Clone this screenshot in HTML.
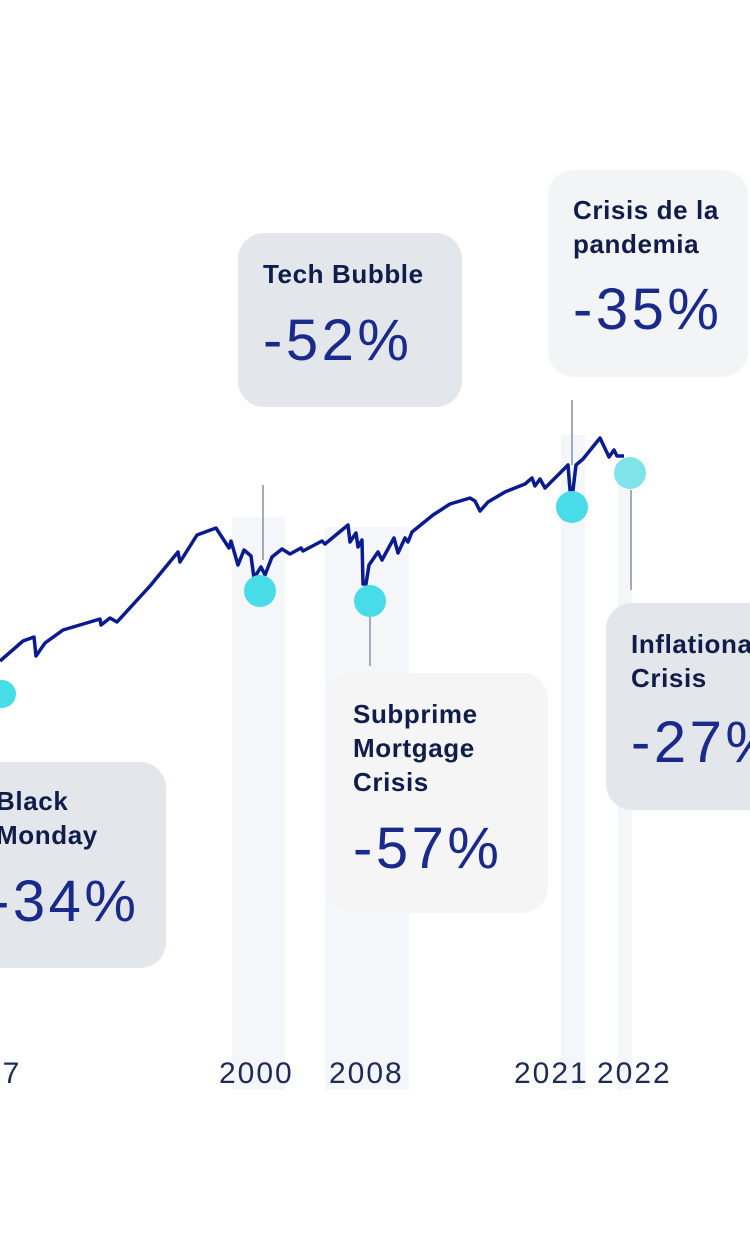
<!DOCTYPE html>
<html><head><meta charset="utf-8"><style>
html,body{margin:0;padding:0;background:#fff;width:750px;height:1234px;overflow:hidden;position:relative;font-family:"Liberation Sans",sans-serif}
.band{position:absolute;background:#f5f6f9}
.vl{position:absolute;width:2px;background:#a3acb5}
.box{position:absolute;border-radius:26px;color:#101c4a}
.t{position:absolute;font-weight:bold;font-size:26px;line-height:34px;letter-spacing:0.6px;white-space:nowrap}
.p{position:absolute;font-size:58px;color:#1a2a8a;letter-spacing:3.5px;white-space:nowrap}
.yr{position:absolute;top:1057px;font-size:30px;color:#1f2a55;letter-spacing:2px}
</style></head><body>
<div class="band" style="left:232px;top:517px;width:53px;height:573px"></div>
<div class="band" style="left:325px;top:527px;width:84px;height:563px"></div>
<div class="band" style="left:561px;top:435px;width:24px;height:655px"></div>
<div class="band" style="left:618px;top:470px;width:14px;height:620px"></div>
<div class="vl" style="left:262px;top:485px;height:75px"></div>
<div class="vl" style="left:369px;top:612px;height:54px"></div>
<div class="vl" style="left:571px;top:400px;height:65px"></div>
<div class="vl" style="left:630px;top:490px;height:100px"></div>
<svg style="position:absolute;left:0;top:0" width="750" height="1234">
<polyline fill="none" stroke="#0a1a8f" stroke-width="3.5" stroke-linejoin="round" points="0,661 23,641 34,637 36,656 45,643 63,630 100,619 101,625 110,618 117,622 150,586 178,552 180,562 197,535 216,528 229,548 231,541 238,565 244,550 251,556 254,578 261,567 265,575 272,557 282,549 290,554 301,548 303,551 322,541 325,544 348,525 350,542 356,533 358,547 362,540 363,584 366,584 369,565 378,552 382,560 394,538 398,553 405,538 408,542 412,532 433,515 450,504 470,498 475,501 480,511 488,502 505,492 525,484 532,478 535,486 540,479 545,488 568,465 570,490 573,490 576,465 583,459 600,438 609,457 614,450 617,456 624,456"/>
<circle cx="2" cy="694" r="14" fill="#48dce8"/>
<circle cx="260" cy="591" r="16" fill="#48dce8"/>
<circle cx="370" cy="601" r="16" fill="#48dce8"/>
<circle cx="572" cy="507" r="16" fill="#48dce8"/>
<circle cx="630" cy="473" r="16" fill="#7fe3ea"/>
</svg>
<div class="box" style="left:238px;top:233px;width:224px;height:174px;background:#e3e6ea">
<div class="t" style="left:25px;top:24px">Tech Bubble</div>
<div class="p" style="left:25px;top:74px">-52%</div></div>
<div class="box" style="left:548px;top:170px;width:200px;height:207px;background:#f3f4f6">
<div class="t" style="left:25px;top:23px">Crisis de la<br>pandemia</div>
<div class="p" style="left:25px;top:106px">-35%</div></div>
<div class="box" style="left:328px;top:673px;width:220px;height:240px;background:#f5f5f6">
<div class="t" style="left:25px;top:24px">Subprime<br>Mortgage<br>Crisis</div>
<div class="p" style="left:25px;top:142px">-57%</div></div>
<div class="box" style="left:606px;top:603px;width:180px;height:207px;background:#e3e6ea">
<div class="t" style="left:25px;top:24px">Inflationary<br>Crisis</div>
<div class="p" style="left:25px;top:106px">-27%</div></div>
<div class="box" style="left:-40px;top:762px;width:206px;height:206px;background:#e3e6ea">
<div class="t" style="left:36px;top:22px">Black<br>Monday</div>
<div class="p" style="left:30px;top:106px">-34%</div></div>
<div class="yr" style="left:-16px">87</div>
<div class="yr" style="left:219px">2000</div>
<div class="yr" style="left:329px">2008</div>
<div class="yr" style="left:514px">2021</div>
<div class="yr" style="left:597px">2022</div>
</body></html>
